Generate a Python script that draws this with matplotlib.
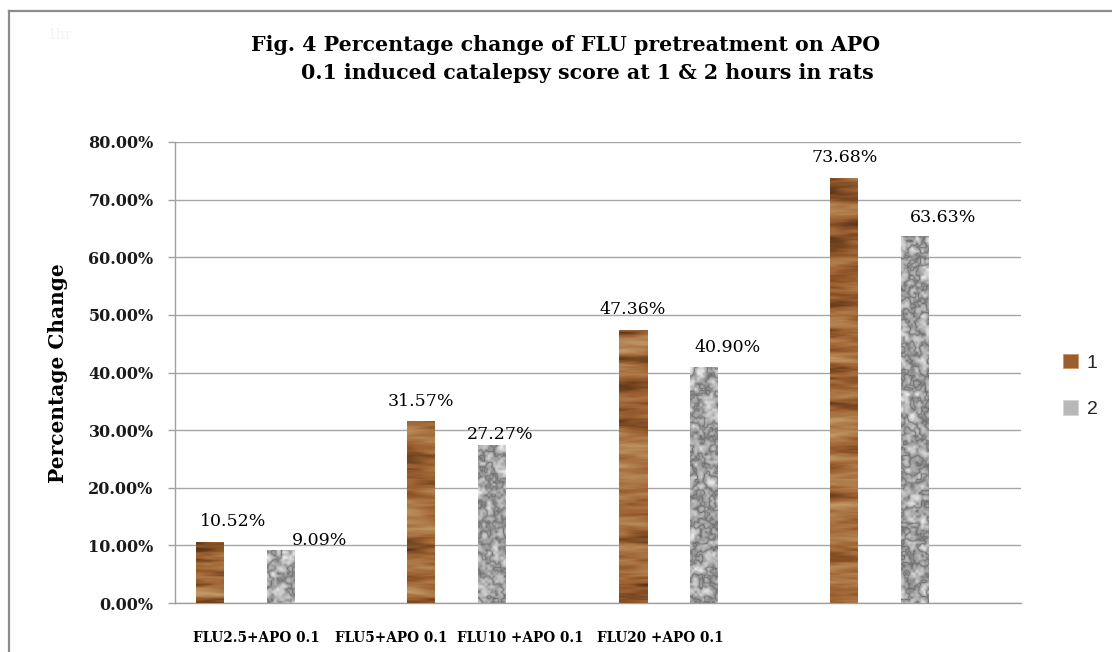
import numpy as np
import matplotlib
matplotlib.use("Agg")
import matplotlib.pyplot as plt
from matplotlib.lines import Line2D
from matplotlib.patches import Patch

# ---------------- data ----------------
categories = ["FLU2.5+APO 0.1", "FLU5+APO 0.1", "FLU10 +APO 0.1", "FLU20 +APO 0.1"]
series_names = ["1", "2"]
hour1 = [10.52, 31.57, 47.36, 73.68]
hour2 = [9.09, 27.27, 40.90, 63.63]
yticks = [0, 10, 20, 30, 40, 50, 60, 70, 80]

title_line1 = "Fig. 4 Percentage change of FLU pretreatment on APO"
title_line2 = "0.1 induced catalepsy score at 1 & 2 hours in rats"
ylabel = "Percentage Change"

# label offsets in pixels (dx, dy) for the value labels
lab_off1 = [(23, 21), (0, 20), (0, 21), (0, 21)]
lab_off2 = [(39, 10), (8, 11), (24, 20), (28, 19)]
# x-label centres in figure pixels (labels are shifted in the original)
xlab_px = [256, 391, 520, 660]

W, H = 1112, 652
fig = plt.figure(figsize=(W / 100, H / 100), dpi=100)
fig.patch.set_facecolor("white")

ax_l, ax_r, ax_t, ax_b = 175, 1021, 142, 603
ax = fig.add_axes([ax_l / W, 1 - ax_b / H, (ax_r - ax_l) / W, (ax_b - ax_t) / H])

n = len(categories)
slot = 71 / ((ax_r - ax_l) / n)   # spacing between series within a category
bw = 28 / ((ax_r - ax_l) / n)
x = np.arange(n) + 0.5
px_per_unit = (ax_b - ax_t) / (yticks[-1] - yticks[0])

bars1 = ax.bar(x - slot, hour1, width=bw, color="#9b5e2e", zorder=2, label=series_names[0])
bars2 = ax.bar(x, hour2, width=bw, color="#b5b5b5", zorder=2, label=series_names[1])


def hash2(i, j, s):
    v = np.sin(i * 12.9898 + j * 78.233 + s * 37.719) * 43758.5453
    return v - np.floor(v)


def value_noise(hp, wp, cell_y, cell_x, s):
    yy, xx = np.mgrid[0:hp, 0:wp].astype(float)
    gy, gx = yy / cell_y, xx / cell_x
    iy, ix = np.floor(gy), np.floor(gx)
    fy, fx = gy - iy, gx - ix
    fy = fy * fy * (3 - 2 * fy)
    fx = fx * fx * (3 - 2 * fx)
    a = hash2(ix, iy, s)
    b = hash2(ix + 1, iy, s)
    c = hash2(ix, iy + 1, s)
    d = hash2(ix + 1, iy + 1, s)
    return (a * (1 - fx) + b * fx) * (1 - fy) + (c * (1 - fx) + d * fx) * fy


def wood_texture(hp, wp, s):
    big = value_noise(hp, wp, 9, 60, s)
    mid = value_noise(hp, wp, 3.5, 25, s + 3)
    fine = value_noise(hp, wp, 1.5, 12, s + 9)
    t = 0.55 * big + 0.3 * mid + 0.15 * fine
    t = (t - t.min()) / (t.max() - t.min() + 1e-9)
    dark = np.array([92, 52, 22]) / 255
    mid_c = np.array([158, 98, 50]) / 255
    light = np.array([194, 154, 104]) / 255
    t3 = t[..., None]
    col = np.where(t3 < 0.45, dark + (mid_c - dark) * (t3 / 0.45),
                   mid_c + (light - mid_c) * ((t3 - 0.45) / 0.55))
    return np.clip(col, 0, 1)


def granite_texture(hp, wp, s):
    n1 = value_noise(hp, wp, 11, 11, s)
    n2 = value_noise(hp, wp, 5.5, 5.5, s + 11)
    n3 = value_noise(hp, wp, 2.6, 2.6, s + 23)
    t = 0.45 * n1 + 0.35 * n2 + 0.2 * n3
    t = (t - t.min()) / (t.max() - t.min() + 1e-9)
    t = np.abs(t - 0.5) * 2  # dark veins
    g = 0.42 + 0.5 * t ** 0.6
    return np.clip(np.dstack([g, g, g]), 0, 1)


for k, b in enumerate(bars1):
    hp = max(int(round(b.get_height() * px_per_unit)), 2)
    tex = wood_texture(hp, 28, k + 1)
    ax.imshow(tex, extent=(b.get_x(), b.get_x() + b.get_width(), 0, b.get_height()),
              aspect="auto", interpolation="bilinear", zorder=3, origin="lower")
for k, b in enumerate(bars2):
    hp = max(int(round(b.get_height() * px_per_unit)), 2)
    tex = granite_texture(hp, 28, k + 7)
    ax.imshow(tex, extent=(b.get_x(), b.get_x() + b.get_width(), 0, b.get_height()),
              aspect="auto", interpolation="bilinear", zorder=3, origin="lower")

ax.set_xlim(0, n)
ax.set_ylim(yticks[0], yticks[-1])

# value labels
lab_font = dict(family="DejaVu Serif", size=12.5, color="black")
for b, v, (dx, dy) in zip(bars1, hour1, lab_off1):
    ax.annotate(f"{v:.2f}%", xy=(b.get_x() + b.get_width() / 2, v),
                xytext=(dx * 0.72, dy * 0.72), textcoords="offset points",
                ha="center", va="center", zorder=5, **lab_font)
for b, v, (dx, dy) in zip(bars2, hour2, lab_off2):
    ax.annotate(f"{v:.2f}%", xy=(b.get_x() + b.get_width() / 2, v),
                xytext=(dx * 0.72, dy * 0.72), textcoords="offset points",
                ha="center", va="center", zorder=5, **lab_font)

# axes styling
ax.set_yticks(yticks)
ax.set_yticklabels([f"{v:.2f}%" for v in yticks], family="DejaVu Serif",
                   fontweight="bold", fontsize=11.5, color="#1a1a1a")
ax.set_xticks([])
ax.tick_params(axis="y", length=5, width=1, color="#a0a0a0", pad=10.5)
ax.yaxis.grid(True, color="#a6a6a6", linewidth=1)
ax.set_axisbelow(True)
for s in ["top", "right"]:
    ax.spines[s].set_visible(False)
for s in ["left", "bottom"]:
    ax.spines[s].set_color("#a0a0a0")
    ax.spines[s].set_linewidth(1)

# category labels (offset as in original)
for lab, xp in zip(categories, xlab_px):
    fig.text(xp / W, 1 - 638 / H, lab, ha="center", va="center",
             family="DejaVu Serif", fontweight="bold", fontsize=9.8)

# y label
fig.text(58 / W, 1 - 373 / H, ylabel, rotation=90, ha="center", va="center",
         family="DejaVu Serif", fontweight="bold", fontsize=14.5)

# title
fig.text(566 / W, 1 - 45 / H, title_line1, ha="center", va="center",
         family="DejaVu Serif", fontweight="bold", fontsize=14.8)
fig.text(587 / W, 1 - 73 / H, title_line2, ha="center", va="center",
         family="DejaVu Serif", fontweight="bold", fontsize=14.8)

# faint ghost text
fig.text(60 / W, 1 - 35 / H, "1hr", ha="center", va="center",
         family="DejaVu Serif", fontsize=10, color="#f3f3f3")

# legend
handles = [Patch(facecolor="#9b5e2e", edgecolor="#c89060", linewidth=0.5),
           Patch(facecolor="#b8b8b8", edgecolor="#d0d0d0", linewidth=0.5)]
leg = fig.legend(handles, series_names, loc="center left",
                 bbox_to_anchor=(1063 / W, 1 - 386 / H), frameon=False,
                 prop=dict(family="Liberation Sans", size=14),
                 handlelength=0.78, handleheight=0.78, handletextpad=0.45,
                 labelspacing=1.45, borderpad=0, borderaxespad=0)
for t in leg.get_texts():
    t.set_color("#262626")

# outer frame (left and top border)
fig.add_artist(Line2D([9 / W, 9 / W], [0, 1 - 11 / H], color="#8c8c8c", linewidth=1.6,
                      transform=fig.transFigure))
fig.add_artist(Line2D([9 / W, 1], [1 - 11 / H, 1 - 11 / H], color="#8c8c8c", linewidth=1.6,
                      transform=fig.transFigure))

fig.savefig("out.png", dpi=100, facecolor="white")
